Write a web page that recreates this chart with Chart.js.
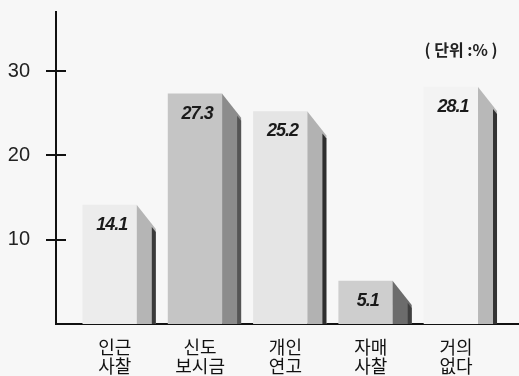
<!DOCTYPE html>
<html>
<head>
<meta charset="utf-8">
<script src="https://cdn.jsdelivr.net/npm/chart.js@4"></script>
<style>
html,body{margin:0;padding:0;background:#f7f7f7;}
canvas{display:block;}
</style>
</head>
<body>
<canvas id="chart" width="519" height="376"></canvas>
<script>
// data
const categories = [["인근","사찰"],["신도","보시금"],["개인","연고"],["자매","사찰"],["거의","없다"]];
const values = [14.1, 27.3, 25.2, 5.1, 28.1];
const yTicks = [10, 20, 30];
const unitLabel = "( 단위 :% )";

// bar faces
const frontColors = ["#ececec","#c5c5c5","#e5e5e5","#cecece","#f3f3f3"];
const sideColors = ["#b5b5b5","#8c8c8c","#b2b2b2","#6c6c6c","#b8b8b8"];
const edgeColors = ["#3a3a3a","#555555","#2e2e2e","#404040","#333333"];

const sideW = 19, bevel = 24;

const bar3d = {
  id:"bar3d",
  afterDatasetsDraw(chart){
    let ctx = chart.ctx;
    let meta = chart.getDatasetMeta(0);
    meta.data.forEach((bar,i)=>{
      let p = bar.getProps(["x","y","width","base"], true);
      let fr = p.x + p.width/2;
      let top = p.y, base = p.base;
      ctx.save();
      // side face with slanted top
      ctx.fillStyle = sideColors[i];
      ctx.beginPath();
      ctx.moveTo(fr, top);
      ctx.lineTo(fr+sideW, top+bevel);
      ctx.lineTo(fr+sideW, base);
      ctx.lineTo(fr, base);
      ctx.closePath();
      ctx.fill();
      // dark edge strip
      ctx.fillStyle = edgeColors[i];
      ctx.beginPath();
      ctx.moveTo(fr+sideW-4, top+bevel*(sideW-4)/sideW+3);
      ctx.lineTo(fr+sideW, top+bevel+3);
      ctx.lineTo(fr+sideW, base);
      ctx.lineTo(fr+sideW-4, base);
      ctx.closePath();
      ctx.fill();
      // value label
      ctx.fillStyle = "#1a1a1a";
      ctx.font = "italic 600 18px 'Liberation Sans', Arial, sans-serif";
      ctx.letterSpacing = "-1px";
      ctx.textAlign = "center";
      ctx.textBaseline = "middle";
      ctx.fillText(values[i].toFixed(1), p.x+2, top+20);
      ctx.restore();
    });
  },
  afterDraw(chart){
    let ctx = chart.ctx;
    let y = chart.scales.y;
    let left = chart.chartArea.left;
    ctx.save();
    // tick marks cross the axis
    ctx.strokeStyle = "#111";
    ctx.lineWidth = 2;
    yTicks.forEach(v=>{
      let py = Math.round(y.getPixelForValue(v));
      ctx.beginPath();
      ctx.moveTo(left, py);
      ctx.lineTo(left+10, py);
      ctx.stroke();
    });
    ctx.fillStyle = "#222";
    ctx.font = "600 16px 'Noto Sans CJK KR', sans-serif";
    ctx.textAlign = "center";
    ctx.textBaseline = "middle";
    ctx.fillText(unitLabel, 461, 50);
    ctx.restore();
  }
};

new Chart(document.getElementById("chart"),{
  type:"bar",
  data:{
    datasets:[{
      data: values.map((v,i)=>({x:i, y:v})),
      backgroundColor: frontColors,
      borderWidth:0,
      barThickness:54
    }]
  },
  options:{
    responsive:false,
    animation:false,
    devicePixelRatio:1,
    layout:{padding:{top:12,left:0,right:0,bottom:0}},
    plugins:{legend:{display:false},tooltip:{enabled:false}},
    scales:{
      x:{
        type:"linear",
        offset:false,
        min:-0.631,
        max:4.797,
        afterBuildTicks:s=>{ s.ticks = categories.map((c,i)=>({value:i})); },
        afterFit:s=>{ s.height = 52; s.paddingLeft = 0; s.paddingRight = 0; },
        grid:{display:false, drawTicks:false, offset:false},
        border:{display:true, color:"#111", width:2},
        ticks:{
          callback:v=>categories[v],
          font:{family:"'Noto Sans CJK KR'", size:18, lineHeight:1.05},
          color:"#111",
          padding:14,
          labelOffset:5,
          maxRotation:0,
          autoSkip:false
        }
      },
      y:{
        min:0,
        max:37,
        afterBuildTicks:s=>{ s.ticks = yTicks.map(v=>({value:v})); },
        afterFit:s=>{ s.width = 56; s.paddingTop = 0; s.paddingBottom = 0; },
        grid:{drawOnChartArea:false, drawTicks:true, tickLength:10, color:"#111", lineWidth:2},
        border:{display:true, color:"#111", width:2},
        ticks:{
          font:{family:"'Liberation Sans'", size:20},
          color:"#222",
          padding:16
        }
      }
    }
  },
  plugins:[bar3d]
});
</script>
</body>
</html>
